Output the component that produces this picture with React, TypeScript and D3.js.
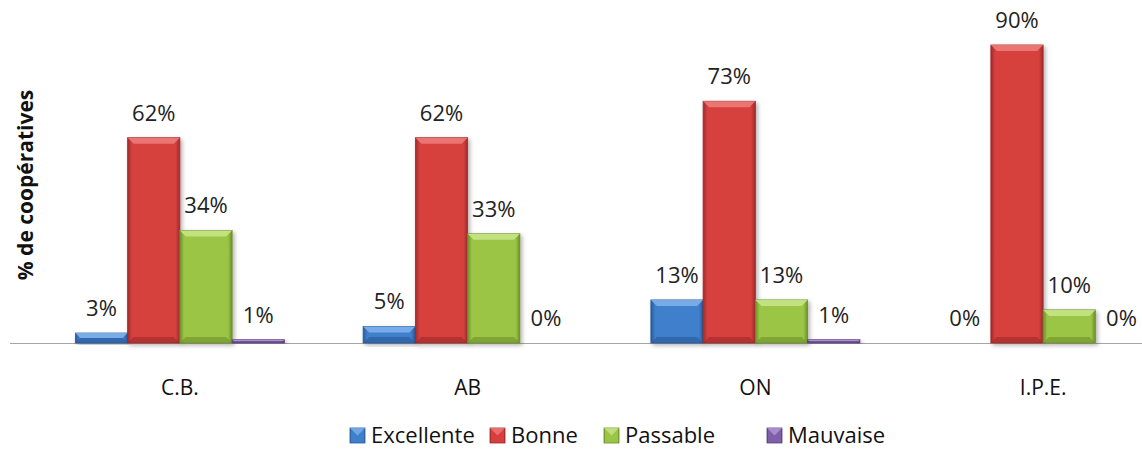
import React from "react";
import * as d3 from "d3";

const categories = ["C.B.", "AB", "ON", "I.P.E."];
const seriesNames = ["Excellente", "Bonne", "Passable", "Mauvaise"];
const excellente = [3, 5, 13, 0];
const bonne = [62, 62, 73, 90];
const passable = [34, 33, 13, 10];
const mauvaise = [1, 0, 1, 0];
const seriesValues = [excellente, bonne, passable, mauvaise];
const colors = ["#3f7fcc", "#d63f3e", "#9bc545", "#7f5fa8"];
const darks = ["#2a5a96", "#9e2a2a", "#6c8f2c", "#5a3f7e"];
const lights = ["#7eb0ea", "#ec7a78", "#c7e486", "#b298d4"];

const W = 1142;
const H = 449;
const baseY = 343;

export default function App() {
  const x0 = d3.scaleBand().domain(categories).range([36, 1187]).paddingInner(0).paddingOuter(0);
  const groupW = 209;
  const x1 = d3.scaleBand().domain(seriesNames).range([0, groupW]);
  const y = d3.scaleLinear().domain([0, 90]).range([baseY, 45]);
  const font = "'Open Sans', Lato, sans-serif";
  const legendX = [350, 490, 604, 767];

  return (
    <svg width={W} height={H} style={{ display: "block", position: "absolute", left: 0, top: 0 }} fontFamily={font}>
      <defs>
        {colors.map((c, i) => (
          <linearGradient key={i} id={`g${i}`} x1="0" x2="1" y1="0" y2="0">
            <stop offset="0" stopColor={darks[i]} />
            <stop offset="0.08" stopColor={c} />
            <stop offset="0.92" stopColor={c} />
            <stop offset="1" stopColor={darks[i]} />
          </linearGradient>
        ))}
        <filter id="sh" x="-10%" y="-10%" width="130%" height="130%">
          <feDropShadow dx="2" dy="2" stdDeviation="2" floodColor="#000" floodOpacity="0.3" />
        </filter>
      </defs>
      <rect width={W} height={H} fill="#fff" />
      <line x1={10} x2={W} y1={baseY + 0.5} y2={baseY + 0.5} stroke="#a6a6a6" strokeWidth={1} />
      {categories.map((cat, ci) => {
        const cx = (x0(cat) as number) + x0.bandwidth() / 2;
        const gx = cx - groupW / 2;
        return (
          <g key={cat}>
            {seriesNames.map((s, si) => {
              const v = seriesValues[si][ci];
              const bx = gx + (x1(s) as number);
              const bw = x1.bandwidth();
              const top = y(v);
              const h = baseY - top;
              const bev = Math.min(6, h / 2);
              return (
                <g key={s}>
                  {v > 0 && (
                    <g filter="url(#sh)">
                      <rect x={bx} y={top} width={bw} height={h} fill={`url(#g${si})`} stroke={darks[si]} strokeWidth={0.8} />
                      <polygon
                        points={`${bx},${top} ${bx + bw},${top} ${bx + bw - bev},${top + bev} ${bx + bev},${top + bev}`}
                        fill={lights[si]}
                        opacity={0.9}
                      />
                      <polygon
                        points={`${bx},${baseY} ${bx + bw},${baseY} ${bx + bw - bev},${baseY - bev} ${bx + bev},${baseY - bev}`}
                        fill={darks[si]}
                        opacity={0.6}
                      />
                    </g>
                  )}
                  <text x={bx + bw / 2} y={top - 17} textAnchor="middle" fontSize={22} fill="#222">
                    {v}%
                  </text>
                </g>
              );
            })}
            <text x={cx} y={395} textAnchor="middle" fontSize={21} fill="#111">
              {cat}
            </text>
          </g>
        );
      })}
      <text transform="translate(33,185) rotate(-90)" textAnchor="middle" fontSize={21} fontWeight="bold" fill="#111">
        % de coopératives
      </text>
      {seriesNames.map((s, i) => (
        <g key={s}>
          <rect x={legendX[i]} y={428} width={15} height={15} fill={`url(#g${i})`} stroke={darks[i]} strokeWidth={0.8} />
          <polygon
            points={`${legendX[i]},428 ${legendX[i] + 15},428 ${legendX[i] + 7.5},435.5`}
            fill={lights[i]}
            opacity={0.8}
          />
          <text x={legendX[i] + 21} y={443} fontSize={22} fill="#111">
            {s}
          </text>
        </g>
      ))}
    </svg>
  );
}
